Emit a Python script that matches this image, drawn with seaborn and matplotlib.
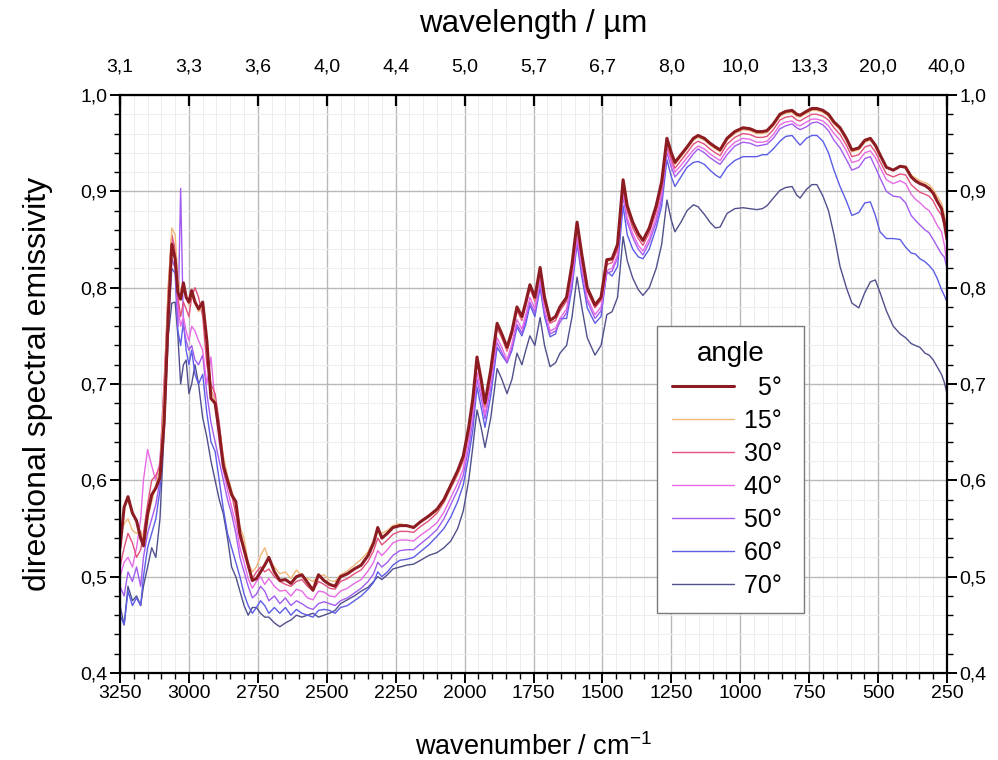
import matplotlib
matplotlib.use("Agg")
import matplotlib.pyplot as plt
from matplotlib.ticker import MultipleLocator, FixedLocator, FixedFormatter, FuncFormatter
from matplotlib.lines import Line2D
import pandas as pd
import seaborn as sns

# Sampled wavenumbers (cm^-1), descending
wavenumber = [
    3250, 3235, 3221, 3205, 3190, 3175, 3165, 3150, 3135, 3120,
    3105, 3090, 3075, 3062, 3050, 3040, 3030, 3020, 3010, 3000,
    2990, 2978, 2965, 2950, 2935, 2920, 2905, 2890, 2875, 2860,
    2845, 2830, 2815, 2800, 2785, 2770, 2755, 2740, 2725, 2710,
    2690, 2670, 2650, 2630, 2610, 2590, 2570, 2550, 2530, 2510,
    2490, 2470, 2450, 2425, 2400, 2375, 2350, 2330, 2315, 2300,
    2280, 2260, 2235, 2210, 2185, 2160, 2130, 2100, 2075, 2050,
    2025, 2005, 1985, 1970, 1955, 1940, 1926, 1905, 1882, 1865,
    1846, 1828, 1810, 1792, 1778, 1763, 1745, 1726, 1710, 1690,
    1670, 1654, 1630, 1610, 1592, 1575, 1555, 1527, 1505, 1484,
    1465, 1445, 1425, 1410, 1390, 1370, 1353, 1330, 1305, 1285,
    1266, 1250, 1237, 1215, 1193, 1170, 1153, 1130, 1110, 1090,
    1073, 1048, 1020, 990, 965, 940, 920, 903, 880, 856,
    835, 812, 795, 783, 760, 740, 722, 700, 680, 660,
    638, 615, 595, 570, 548, 528, 510, 493, 470, 445,
    420, 400, 380, 365, 348, 330, 315, 300, 286, 270,
    260, 250,
]

emis_05 = [
    0.530, 0.572, 0.583, 0.566, 0.558, 0.540, 0.532, 0.565, 0.585, 0.592,
    0.603, 0.660, 0.770, 0.845, 0.830, 0.795, 0.788, 0.805, 0.790, 0.785,
    0.797, 0.785, 0.778, 0.785, 0.745, 0.685, 0.680, 0.650, 0.615, 0.600,
    0.585, 0.578, 0.545, 0.528, 0.512, 0.496, 0.498, 0.505, 0.512, 0.520,
    0.505, 0.496, 0.497, 0.493, 0.500, 0.502, 0.494, 0.486, 0.502, 0.496,
    0.492, 0.490, 0.500, 0.503, 0.508, 0.512, 0.522, 0.535, 0.551, 0.540,
    0.545, 0.551, 0.553, 0.553, 0.551, 0.557, 0.563, 0.570, 0.580, 0.595,
    0.610, 0.625, 0.655, 0.685, 0.728, 0.705, 0.680, 0.715, 0.763, 0.752,
    0.738, 0.755, 0.780, 0.770, 0.785, 0.803, 0.790, 0.821, 0.790, 0.766,
    0.770, 0.780, 0.790, 0.825, 0.868, 0.835, 0.800, 0.782, 0.790, 0.829,
    0.830, 0.845, 0.912, 0.885, 0.868, 0.856, 0.849, 0.862, 0.885, 0.910,
    0.955, 0.940, 0.930, 0.938, 0.946, 0.955, 0.958, 0.955, 0.950, 0.946,
    0.943, 0.955, 0.962, 0.966, 0.965, 0.962, 0.962, 0.963, 0.970, 0.980,
    0.983, 0.984, 0.980, 0.979, 0.983, 0.986, 0.986, 0.984, 0.980, 0.972,
    0.966, 0.955, 0.943, 0.945, 0.953, 0.955, 0.948, 0.938, 0.925, 0.922,
    0.926, 0.925, 0.915, 0.911, 0.908, 0.906, 0.903, 0.898, 0.890, 0.882,
    0.868, 0.850,
]

emis_15 = [
    0.540, 0.555, 0.560, 0.548, 0.545, 0.548, 0.540, 0.560, 0.578, 0.595,
    0.612, 0.690, 0.800, 0.862, 0.855, 0.810, 0.795, 0.800, 0.792, 0.782,
    0.792, 0.786, 0.775, 0.780, 0.740, 0.695, 0.682, 0.655, 0.625, 0.605,
    0.590, 0.575, 0.552, 0.540, 0.515, 0.505, 0.510, 0.522, 0.530, 0.518,
    0.510, 0.503, 0.505, 0.498, 0.507, 0.500, 0.498, 0.495, 0.500, 0.502,
    0.496, 0.495, 0.502, 0.506, 0.512, 0.518, 0.526, 0.538, 0.548, 0.545,
    0.548, 0.553, 0.555, 0.553, 0.552, 0.556, 0.562, 0.568, 0.578, 0.593,
    0.607, 0.622, 0.652, 0.682, 0.725, 0.702, 0.678, 0.712, 0.760, 0.750,
    0.736, 0.753, 0.778, 0.768, 0.783, 0.801, 0.788, 0.819, 0.788, 0.765,
    0.769, 0.779, 0.789, 0.823, 0.865, 0.833, 0.799, 0.783, 0.790, 0.827,
    0.829, 0.843, 0.908, 0.883, 0.866, 0.855, 0.848, 0.861, 0.883, 0.907,
    0.951, 0.938, 0.928, 0.936, 0.944, 0.953, 0.956, 0.953, 0.948, 0.944,
    0.941, 0.953, 0.960, 0.964, 0.963, 0.960, 0.960, 0.961, 0.968, 0.978,
    0.981, 0.982, 0.978, 0.977, 0.981, 0.984, 0.984, 0.982, 0.978, 0.970,
    0.964, 0.953, 0.941, 0.943, 0.951, 0.953, 0.946, 0.937, 0.925, 0.922,
    0.926, 0.926, 0.917, 0.914, 0.911, 0.909, 0.907, 0.902, 0.895, 0.888,
    0.876, 0.860,
]

emis_30 = [
    0.510, 0.530, 0.545, 0.535, 0.520, 0.528, 0.545, 0.575, 0.600, 0.605,
    0.615, 0.700, 0.800, 0.855, 0.840, 0.790, 0.770, 0.785, 0.778, 0.770,
    0.790, 0.800, 0.790, 0.770, 0.720, 0.700, 0.690, 0.660, 0.620, 0.600,
    0.585, 0.565, 0.540, 0.530, 0.510, 0.498, 0.505, 0.510, 0.505, 0.508,
    0.500, 0.495, 0.492, 0.490, 0.495, 0.497, 0.490, 0.485, 0.495, 0.492,
    0.488, 0.487, 0.495, 0.498, 0.503, 0.507, 0.516, 0.527, 0.540, 0.533,
    0.538, 0.544, 0.547, 0.547, 0.546, 0.552, 0.558, 0.566, 0.577, 0.592,
    0.606, 0.620, 0.650, 0.680, 0.722, 0.700, 0.676, 0.710, 0.758, 0.748,
    0.734, 0.751, 0.776, 0.766, 0.781, 0.799, 0.786, 0.817, 0.786, 0.763,
    0.766, 0.776, 0.786, 0.820, 0.862, 0.830, 0.796, 0.779, 0.787, 0.824,
    0.826, 0.840, 0.905, 0.880, 0.862, 0.851, 0.844, 0.857, 0.879, 0.903,
    0.948, 0.934, 0.924, 0.932, 0.940, 0.949, 0.952, 0.949, 0.944, 0.940,
    0.937, 0.949, 0.956, 0.960, 0.959, 0.956, 0.956, 0.957, 0.964, 0.974,
    0.977, 0.978, 0.974, 0.973, 0.977, 0.980, 0.980, 0.978, 0.974, 0.966,
    0.959, 0.948, 0.936, 0.938, 0.946, 0.948, 0.941, 0.931, 0.918, 0.915,
    0.918, 0.917, 0.907, 0.903, 0.899, 0.897, 0.895, 0.890, 0.882, 0.875,
    0.865, 0.855,
]

emis_40 = [
    0.500, 0.515, 0.520, 0.510, 0.530, 0.560, 0.600, 0.632, 0.615, 0.600,
    0.620, 0.700, 0.790, 0.850, 0.835, 0.780, 0.760, 0.770, 0.755, 0.745,
    0.760, 0.755, 0.745, 0.735, 0.700, 0.728, 0.680, 0.640, 0.610, 0.590,
    0.572, 0.555, 0.530, 0.515, 0.498, 0.488, 0.495, 0.500, 0.492, 0.498,
    0.490, 0.485, 0.486, 0.480, 0.487, 0.485, 0.478, 0.476, 0.485, 0.484,
    0.480, 0.479, 0.485, 0.488, 0.493, 0.497, 0.506, 0.515, 0.527, 0.522,
    0.528, 0.535, 0.538, 0.538, 0.537, 0.543, 0.549, 0.556, 0.567, 0.582,
    0.597, 0.612, 0.642, 0.670, 0.712, 0.692, 0.668, 0.702, 0.748, 0.738,
    0.725, 0.742, 0.767, 0.757, 0.772, 0.790, 0.778, 0.809, 0.778, 0.755,
    0.758, 0.768, 0.778, 0.811, 0.853, 0.822, 0.789, 0.772, 0.780, 0.818,
    0.820, 0.834, 0.900, 0.872, 0.856, 0.844, 0.838, 0.851, 0.873, 0.897,
    0.945, 0.930, 0.920, 0.927, 0.935, 0.943, 0.947, 0.944, 0.939, 0.935,
    0.932, 0.943, 0.951, 0.955, 0.954, 0.951, 0.951, 0.952, 0.959, 0.969,
    0.972, 0.973, 0.969, 0.968, 0.972, 0.975, 0.975, 0.973, 0.968, 0.960,
    0.953, 0.942, 0.930, 0.932, 0.940, 0.942, 0.935, 0.925, 0.912, 0.908,
    0.911, 0.908, 0.897, 0.892, 0.888, 0.883, 0.880, 0.873, 0.865, 0.858,
    0.845, 0.825,
]

emis_50 = [
    0.490, 0.480, 0.505, 0.495, 0.510, 0.490, 0.520, 0.545, 0.560, 0.575,
    0.600, 0.680, 0.770, 0.830, 0.820, 0.760, 0.903, 0.760, 0.745, 0.735,
    0.740, 0.725, 0.720, 0.730, 0.690, 0.660, 0.640, 0.620, 0.600, 0.580,
    0.565, 0.545, 0.520, 0.505, 0.490, 0.478, 0.482, 0.490, 0.485, 0.475,
    0.480, 0.472, 0.478, 0.470, 0.475, 0.472, 0.468, 0.466, 0.472, 0.474,
    0.472, 0.470, 0.475, 0.478, 0.483, 0.488, 0.495, 0.503, 0.515, 0.510,
    0.515, 0.522, 0.527, 0.528, 0.528, 0.534, 0.541, 0.549, 0.560, 0.575,
    0.590, 0.605, 0.634, 0.662, 0.705, 0.686, 0.664, 0.697, 0.743, 0.733,
    0.722, 0.738, 0.762, 0.753, 0.767, 0.785, 0.774, 0.805, 0.774, 0.752,
    0.755, 0.764, 0.774, 0.806, 0.848, 0.818, 0.786, 0.768, 0.776, 0.815,
    0.817, 0.831, 0.895, 0.868, 0.852, 0.840, 0.834, 0.847, 0.868, 0.892,
    0.940, 0.925, 0.915, 0.922, 0.930, 0.939, 0.944, 0.940, 0.935, 0.931,
    0.928, 0.938, 0.947, 0.951, 0.950, 0.947, 0.948, 0.949, 0.955, 0.965,
    0.968, 0.970, 0.966, 0.964, 0.967, 0.971, 0.972, 0.969, 0.963, 0.953,
    0.945, 0.933, 0.922, 0.925, 0.934, 0.936, 0.925, 0.914, 0.900, 0.895,
    0.894, 0.888, 0.875, 0.870, 0.865, 0.860, 0.857, 0.850, 0.843, 0.835,
    0.832, 0.820,
]

emis_60 = [
    0.460, 0.450, 0.485, 0.470, 0.478, 0.470, 0.500, 0.530, 0.545, 0.560,
    0.590, 0.670, 0.760, 0.820, 0.815, 0.755, 0.740, 0.765, 0.735, 0.720,
    0.735, 0.710, 0.700, 0.710, 0.670, 0.640, 0.630, 0.600, 0.570, 0.545,
    0.530, 0.515, 0.500, 0.482, 0.470, 0.462, 0.468, 0.475, 0.470, 0.462,
    0.468, 0.462, 0.468, 0.460, 0.466, 0.462, 0.460, 0.458, 0.465, 0.466,
    0.465, 0.462, 0.468, 0.470, 0.475, 0.480, 0.487, 0.494, 0.505, 0.500,
    0.505, 0.512, 0.517, 0.518, 0.520, 0.526, 0.533, 0.542, 0.550, 0.562,
    0.578, 0.595, 0.625, 0.652, 0.697, 0.676, 0.655, 0.688, 0.738, 0.730,
    0.722, 0.735, 0.759, 0.750, 0.762, 0.782, 0.770, 0.800, 0.770, 0.749,
    0.752, 0.768, 0.768, 0.800, 0.846, 0.812, 0.779, 0.763, 0.770, 0.817,
    0.812, 0.822, 0.885, 0.855, 0.840, 0.832, 0.830, 0.840, 0.862, 0.885,
    0.933, 0.915, 0.905, 0.915, 0.925, 0.930, 0.931, 0.928, 0.922, 0.917,
    0.914, 0.925, 0.932, 0.936, 0.936, 0.936, 0.938, 0.938, 0.944, 0.952,
    0.957, 0.958, 0.952, 0.948, 0.955, 0.958, 0.958, 0.952, 0.940, 0.922,
    0.905, 0.890, 0.875, 0.878, 0.888, 0.889, 0.875, 0.858, 0.851, 0.851,
    0.850, 0.842, 0.836, 0.835, 0.830, 0.827, 0.823, 0.818, 0.810, 0.798,
    0.792, 0.785,
]

emis_70 = [
    0.470, 0.450, 0.490, 0.475, 0.480, 0.470, 0.490, 0.510, 0.530, 0.520,
    0.560, 0.650, 0.750, 0.784, 0.785, 0.750, 0.700, 0.720, 0.725, 0.690,
    0.700, 0.720, 0.700, 0.665, 0.645, 0.620, 0.600, 0.580, 0.565, 0.540,
    0.510, 0.500, 0.485, 0.470, 0.460, 0.468, 0.468, 0.462, 0.458, 0.458,
    0.452, 0.448, 0.452, 0.455, 0.460, 0.458, 0.460, 0.462, 0.458, 0.460,
    0.462, 0.465, 0.472, 0.476, 0.480, 0.485, 0.489, 0.495, 0.500, 0.497,
    0.502, 0.508, 0.510, 0.512, 0.513, 0.517, 0.522, 0.525, 0.530, 0.537,
    0.550, 0.568, 0.600, 0.635, 0.673, 0.655, 0.634, 0.665, 0.716, 0.705,
    0.690, 0.705, 0.732, 0.720, 0.735, 0.750, 0.740, 0.769, 0.740, 0.718,
    0.722, 0.732, 0.740, 0.770, 0.811, 0.780, 0.748, 0.730, 0.740, 0.772,
    0.775, 0.790, 0.853, 0.828, 0.810, 0.798, 0.792, 0.800, 0.820, 0.845,
    0.891, 0.870, 0.858, 0.868, 0.880, 0.886, 0.884, 0.876, 0.868, 0.862,
    0.863, 0.877, 0.882, 0.883, 0.882, 0.881, 0.882, 0.885, 0.893, 0.901,
    0.904, 0.905, 0.896, 0.893, 0.902, 0.907, 0.907, 0.895, 0.880, 0.855,
    0.822, 0.800, 0.784, 0.779, 0.795, 0.806, 0.808, 0.795, 0.776, 0.760,
    0.752, 0.748, 0.742, 0.740, 0.738, 0.732, 0.730, 0.725, 0.718, 0.710,
    0.702, 0.690,
]

angles = ["5°", "15°", "30°", "40°", "50°", "60°", "70°"]
series = [emis_05, emis_15, emis_30, emis_40, emis_50, emis_60, emis_70]
line_colors = ["#8c1c22", "#f0b878", "#e2507c", "#e86ae6", "#a45cf0", "#5c5ce6", "#50508c"]
line_widths = [2.2, 1.0, 1.0, 1.0, 1.0, 1.0, 1.0]

wavenumber_ticks = [3250, 3000, 2750, 2500, 2250, 2000, 1750, 1500, 1250, 1000, 750, 500, 250]
wavelength_labels = ["3,1", "3,3", "3,6", "4,0", "4,4", "5,0", "5,7", "6,7",
                     "8,0", "10,0", "13,3", "20,0", "40,0"]

df = pd.concat(
    [pd.DataFrame({"wavenumber": wavenumber, "emissivity": vals, "angle": name})
     for name, vals in zip(angles, series)],
    ignore_index=True,
)

sns.set_theme(style="white")
plt.rcParams["font.family"] = ["Liberation Sans", "DejaVu Sans"]
plt.rcParams["mathtext.fontset"] = "custom"
plt.rcParams["mathtext.rm"] = "Liberation Sans"
plt.rcParams["text.color"] = "black"
plt.rcParams["axes.labelcolor"] = "black"
plt.rcParams["legend.labelcolor"] = "black"

fig = plt.figure(figsize=(9.98, 7.6), dpi=100)
ax = fig.add_axes([120 / 998, 1 - 673 / 760, 827 / 998, 578 / 760])

# draw the steep angles first so the near-normal curve sits on top
for name, color, lw in reversed(list(zip(angles, line_colors, line_widths))):
    sns.lineplot(data=df[df["angle"] == name], x="wavenumber", y="emissivity",
                 color=color, linewidth=lw, sort=False, estimator=None,
                 legend=False, ax=ax)

ax.set_xlim(3250, 250)
ax.set_ylim(0.4, 1.0)

ax.xaxis.set_major_locator(FixedLocator(wavenumber_ticks))
ax.xaxis.set_minor_locator(MultipleLocator(50))
ax.yaxis.set_major_locator(MultipleLocator(0.1))
ax.yaxis.set_minor_locator(MultipleLocator(0.02))
ax.yaxis.set_major_formatter(FuncFormatter(lambda v, p: f"{v:.1f}".replace(".", ",")))

ax.set_axisbelow(True)
ax.grid(which="major", color="#b9b9b9", linewidth=1.0)
ax.grid(which="minor", color="#ededed", linewidth=0.7)

for side in ["left", "right", "bottom", "top"]:
    ax.spines[side].set_visible(True)
    ax.spines[side].set_color("black")
    ax.spines[side].set_linewidth(1.6)

ax.tick_params(axis="both", which="major", direction="out", length=7, width=1.4,
               colors="black", labelsize=14, pad=2)
ax.tick_params(axis="both", which="minor", direction="out", length=4, width=1.0,
               colors="black")
ax.tick_params(axis="y", which="both", left=True, right=True, labelleft=True, labelright=True)
ax.tick_params(axis="x", which="both", bottom=True, top=False)

ax.set_xlabel("wavenumber / cm$^{\\mathregular{-1}}$", fontsize=19.5, labelpad=22, color="black")
ax.set_ylabel("directional spectral emissivity", fontsize=23, labelpad=20, color="black")

# wavelength scale along the top edge
top = ax.twiny()
top.set_xlim(ax.get_xlim())
top.xaxis.set_major_locator(FixedLocator(wavenumber_ticks))
top.xaxis.set_major_formatter(FixedFormatter(wavelength_labels))
top.tick_params(axis="x", which="major", direction="in", length=8, width=1.6,
                labelsize=14, pad=14, colors="black")
top.set_xlabel("wavelength / µm", fontsize=22.5, labelpad=19, color="black")
for side in ["left", "right", "bottom", "top"]:
    top.spines[side].set_visible(False)
top.grid(False)

handles = [Line2D([], [], color=c, linewidth=w) for c, w in zip(line_colors, line_widths)]
labels = [("  " + a if len(a) == 2 else a) + " " for a in angles]
leg = ax.legend(handles, labels, title="angle", loc="upper left",
                bbox_to_anchor=(0.649, 0.600), fontsize=18, title_fontsize=20,
                frameon=True, fancybox=False, edgecolor="#7a7a7a", framealpha=1,
                handlelength=2.5, handletextpad=0.4, labelspacing=0.36,
                borderpad=0.6, borderaxespad=0)
leg.get_frame().set_linewidth(1.0)
leg.get_title().set_color("black")
for txt in leg.get_texts():
    txt.set_color("black")

fig.savefig("out.png", dpi=100, facecolor="white")
